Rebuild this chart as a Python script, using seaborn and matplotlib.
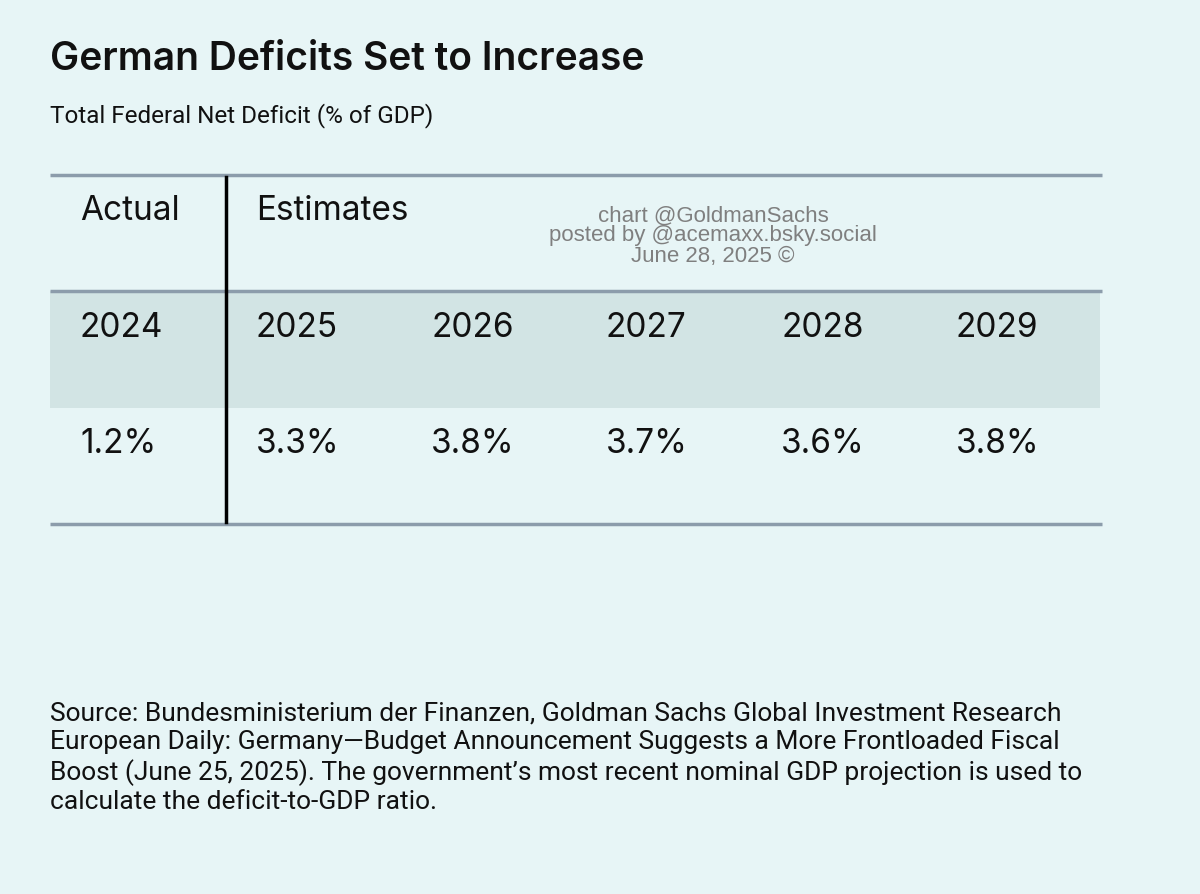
import numpy as np
import seaborn as sns
import matplotlib.pyplot as plt
from matplotlib.colors import ListedColormap

years = ["2024", "2025", "2026", "2027", "2028", "2029"]
deficits = ["1.2%", "3.3%", "3.8%", "3.7%", "3.6%", "3.8%"]
col_x = [80, 256, 431, 606, 781, 956]

W, H = 1200, 895
bg = "#e7f5f6"
fig = plt.figure(figsize=(12, 8.95), dpi=100, facecolor=bg)

def px(x, y):
    return x / W, 1 - y / H

# row shading with a seaborn heatmap: header band + value row
l, b = px(50, 525)
ax = fig.add_axes([l, b, 1050 / W, 233 / H])
sns.heatmap(np.array([[0], [1]]), ax=ax, cmap=ListedColormap(["#d2e4e4", bg]),
            cbar=False, xticklabels=False, yticklabels=False)
ax.set_axis_off()

lax = fig.add_axes([0, 0, 1, 1], facecolor="none")
lax.set_xlim(0, W)
lax.set_ylim(H, 0)
lax.set_axis_off()
line_c = "#8c9cab"
for y in [176, 292, 525]:
    lax.plot([50, 1102], [y, y], color=line_c, lw=2.5, solid_capstyle="butt")
lax.plot([226, 226], [178, 523], color="black", lw=2.5)

fig.text(*px(50, 60), "German Deficits Set to Increase", fontsize=28, fontweight="semibold",
         family="Inter", va="center", color="#111111")
fig.text(*px(50, 116), "Total Federal Net Deficit (% of GDP)", fontsize=17.5,
         family="Roboto", va="center", color="#111111")

fs = 24
fig.text(*px(80, 211), "Actual", fontsize=fs, va="center", family="Inter", color="#111111")
fig.text(*px(256, 211), "Estimates", fontsize=fs, va="center", family="Inter", color="#111111")
for x, yr, d in zip(col_x, years, deficits):
    fig.text(*px(x, 328), yr, fontsize=fs, va="center", family="Inter", color="#111111")
    fig.text(*px(x, 444), d, fontsize=fs, va="center", family="Inter", color="#111111")

fig.text(*px(713, 236), "chart @GoldmanSachs\nposted by @acemaxx.bsky.social\nJune 28, 2025 \u00a9",
         fontsize=16, ha="center", va="center", color="#7f7f7f", family="Liberation Sans",
         linespacing=0.95)

source = ("Source: Bundesministerium der Finanzen, Goldman Sachs Global Investment Research\n"
          "European Daily: Germany\u2014Budget Announcement Suggests a More Frontloaded Fiscal\n"
          "Boost (June 25, 2025). The government\u2019s most recent nominal GDP projection is used to\n"
          "calculate the deficit-to-GDP ratio.")
fig.text(*px(50, 702), source, fontsize=19, va="top", family="Roboto", color="#111111",
         linespacing=1.22)

fig.savefig("out.png", dpi=100, facecolor=bg)
